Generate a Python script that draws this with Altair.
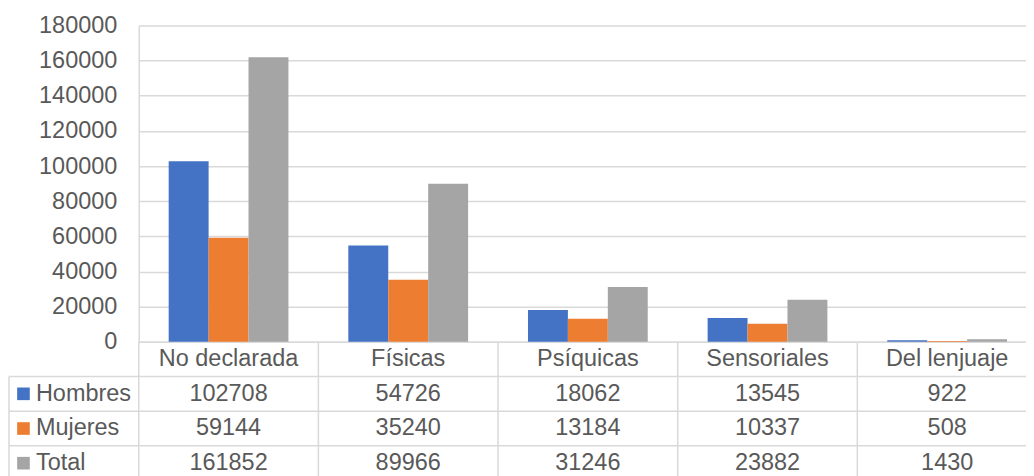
import altair as alt
import pandas as pd

categories = ["No declarada", "Físicas", "Psíquicas", "Sensoriales", "Del lenjuaje"]
series = ["Hombres", "Mujeres", "Total"]
hombres = [102708, 54726, 18062, 13545, 922]
mujeres = [59144, 35240, 13184, 10337, 508]
total = [161852, 89966, 31246, 23882, 1430]
colors = ["#4472C4", "#ED7D31", "#A5A5A5"]
y_ticks = list(range(0, 180001, 20000))

values = {"Hombres": hombres, "Mujeres": mujeres, "Total": total}
long = pd.DataFrame(
    [{"cat": c, "series": s, "value": values[s][i]} for s in series for i, c in enumerate(categories)]
)

rows = ["__cat"] + series
tab_rows = [{"cat": c, "row": "__cat", "text": c} for c in categories]
tab_rows += [{"cat": c, "row": s, "text": str(values[s][i])} for s in series for i, c in enumerate(categories)]
tab = pd.DataFrame(tab_rows)

W = 900
H_TOP = 317
H_TAB = 139
LEFT = -130
FONT = "Liberation Sans"
FS = 23.5
TXT = "#595959"
GRID = "#d9d9d9"
LW = 1.5

xscale = alt.Scale(domain=categories, paddingInner=0, paddingOuter=0)
cscale = alt.Scale(domain=series, range=colors)
yrow = alt.Scale(domain=rows, paddingInner=0, paddingOuter=0)

bars = alt.Chart(long).mark_bar().encode(
    x=alt.X("cat:N", scale=xscale, sort=categories,
            axis=alt.Axis(labels=False, ticks=False, title=None, domainColor=GRID, domainWidth=LW)),
    xOffset=alt.XOffset("series:N", sort=series,
                        scale=alt.Scale(domain=series, paddingInner=0, paddingOuter=0.75)),
    y=alt.Y("value:Q", scale=alt.Scale(domain=[0, 180000]),
            axis=alt.Axis(values=y_ticks, format="d", title=None, ticks=False,
                          labelFontSize=FS, labelColor=TXT, labelFont=FONT, labelPadding=22,
                          gridColor=GRID, gridWidth=LW, domainColor=GRID, domainWidth=LW)),
    color=alt.Color("series:N", scale=cscale, legend=None),
).properties(width=W, height=H_TOP)

cell_text = alt.Chart(tab).mark_text(fontSize=FS, font=FONT, color=TXT).encode(
    x=alt.X("cat:N", scale=xscale, axis=None),
    y=alt.Y("row:N", scale=yrow, axis=None),
    text="text:N",
)

vlines = alt.Chart(pd.DataFrame({"cat": categories})).mark_rule(color=GRID, strokeWidth=LW).encode(
    x=alt.X("cat:N", scale=xscale, bandPosition=0, axis=None),
    y=alt.value(0),
    y2=alt.value(H_TAB),
)

series_df = pd.DataFrame({"row": series})

hlines = alt.Chart(series_df).mark_rule(color=GRID, strokeWidth=LW).encode(
    y=alt.Y("row:N", scale=yrow, bandPosition=0, axis=None),
    x=alt.value(LEFT),
    x2=alt.value(W),
)

left_border = alt.Chart(pd.DataFrame({"row": ["Hombres"]})).mark_rule(color=GRID, strokeWidth=LW).encode(
    y=alt.Y("row:N", scale=yrow, bandPosition=0, axis=None),
    y2=alt.value(H_TAB),
    x=alt.value(LEFT),
)

squares = alt.Chart(series_df).mark_square(size=160, opacity=1).encode(
    x=alt.value(LEFT + 14.5),
    y=alt.Y("row:N", scale=yrow, axis=None),
    color=alt.Color("row:N", scale=cscale, legend=None),
)

row_labels = alt.Chart(series_df).mark_text(fontSize=FS, font=FONT, color=TXT, align="left").encode(
    x=alt.value(LEFT + 27),
    y=alt.Y("row:N", scale=yrow, axis=None),
    text="row:N",
)

table = alt.layer(vlines, hlines, left_border, squares, row_labels, cell_text).properties(
    width=W, height=H_TAB
)

chart = alt.vconcat(bars, table, spacing=0, bounds="flush").properties(
    padding={"left": 0, "top": 5, "right": -12, "bottom": -6}
).configure_view(stroke=None)

chart.save("out.html", embed_options={"renderer": "svg", "actions": False})
